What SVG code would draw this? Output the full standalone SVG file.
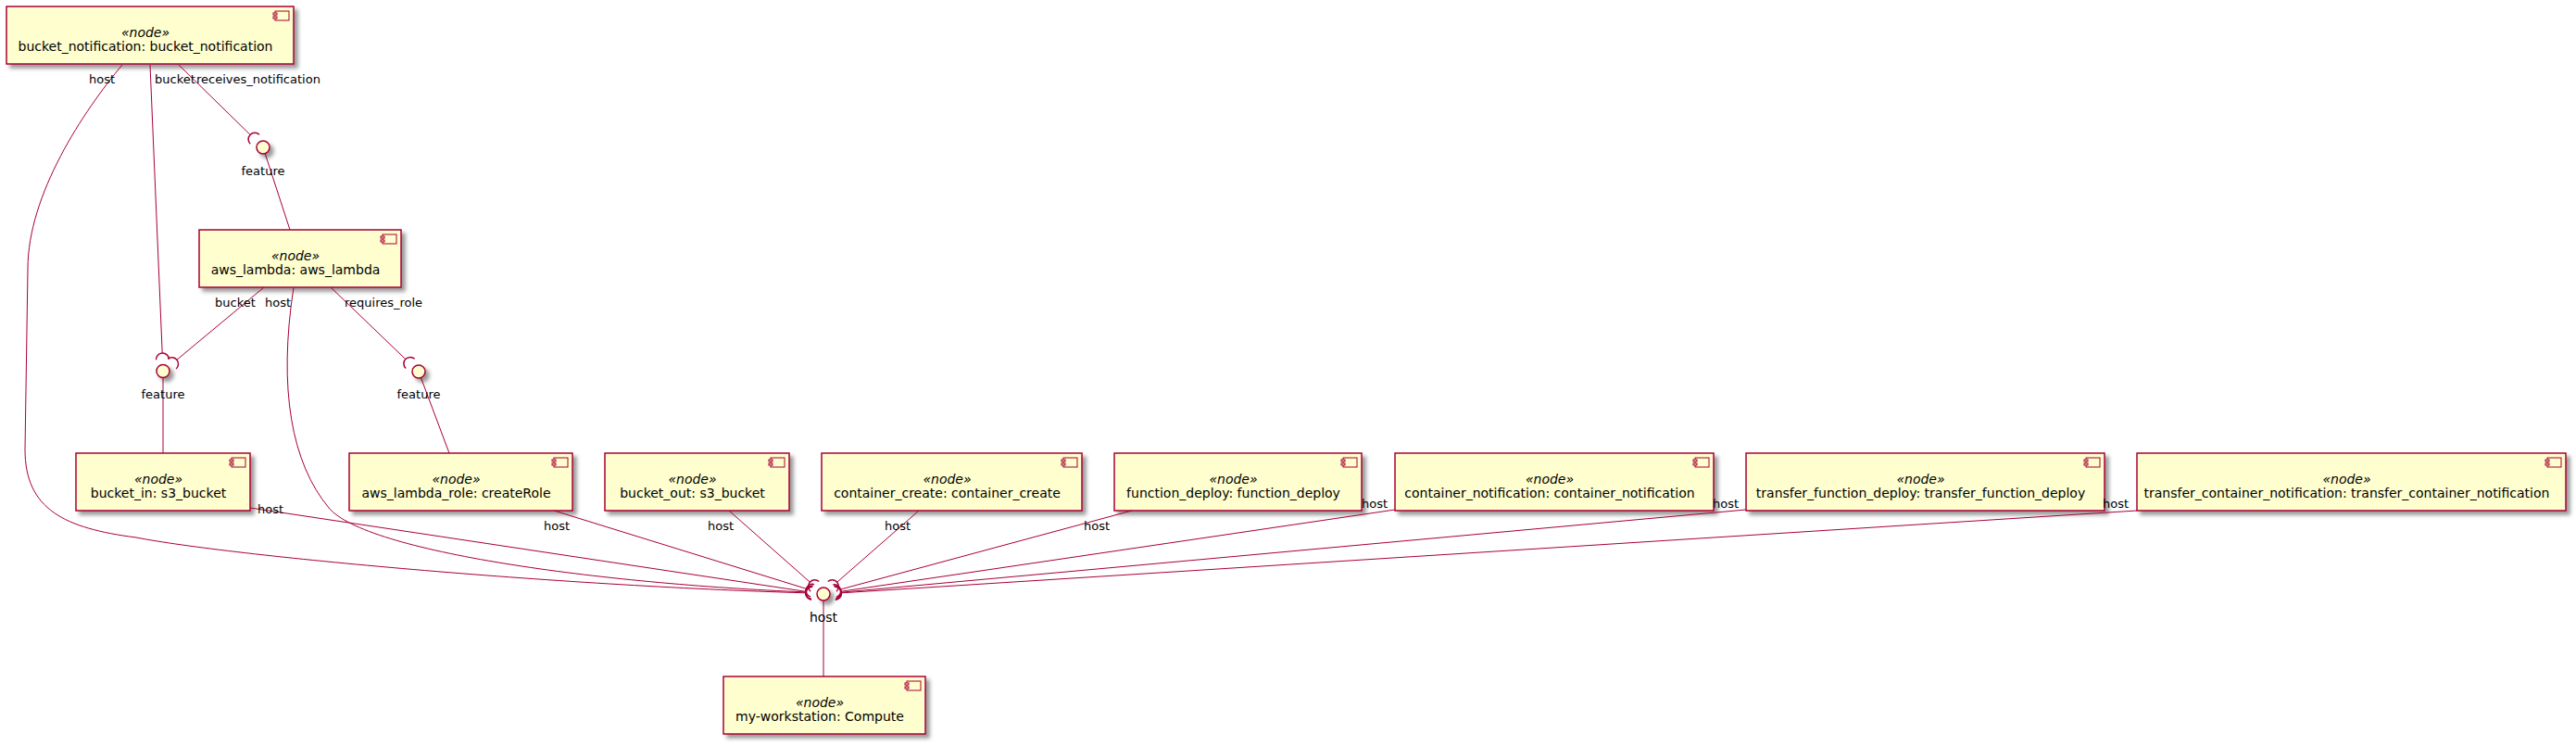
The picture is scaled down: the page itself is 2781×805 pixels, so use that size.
<svg xmlns="http://www.w3.org/2000/svg" xmlns:xlink="http://www.w3.org/1999/xlink" width="2781" height="805" viewBox="0 0 2781 805">
<defs>
<filter id="sh" x="-1" y="-1" width="300%" height="300%">
<feGaussianBlur stdDeviation="2" result="b1"/>
<feColorMatrix in="b1" result="b2" type="matrix" values="0 0 0 0 0 0 0 0 0 0 0 0 0 0 0 0 0 0 .4 0"/>
<feOffset dx="4" dy="4" in="b2" result="b3"/>
<feBlend in="SourceGraphic" in2="b3" mode="normal"/>
</filter>
<g id="icon">
<rect x="-20" y="5" width="15" height="10" class="icon"/>
<rect x="-22" y="7" width="4" height="2" class="icon"/>
<rect x="-22" y="11" width="4" height="2" class="icon"/>
</g>
</defs>
<style>
.box{fill:#FEFECE;stroke:#A80036;stroke-width:1.5;filter:url(#sh)}
.icon{fill:#FEFECE;stroke:#A80036;stroke-width:1}
.st{font-family:"DejaVu Sans","Liberation Sans",sans-serif;font-size:14px;font-style:italic;text-anchor:middle;fill:#000}
.nm{font-family:"DejaVu Sans","Liberation Sans",sans-serif;font-size:14px;text-anchor:middle;fill:#000}
.lk{fill:none;stroke:#A80036;stroke-width:1}
.sock{fill:none;stroke:#A80036;stroke-width:1.5}
.lbl{font-family:"DejaVu Sans","Liberation Sans",sans-serif;font-size:13px;fill:#000}
.ic{fill:#FEFECE;stroke:#A80036;stroke-width:1.5;filter:url(#sh)}
.icl{font-family:"DejaVu Sans","Liberation Sans",sans-serif;font-size:13px;text-anchor:middle;fill:#000}
</style>
<rect x="0" y="0" width="2781" height="805" fill="#FFFFFF"/>

<g id="bucket_notification">
<rect class="box" x="7" y="7" width="310" height="62"/>
<use xlink:href="#icon" x="317" y="7"/>
<text class="st" x="157" y="40">«node»</text>
<text class="nm" x="157" y="55">bucket_notification: bucket_notification</text>
</g>
<g id="aws_lambda">
<rect class="box" x="215" y="248" width="218" height="62"/>
<use xlink:href="#icon" x="433" y="248"/>
<text class="st" x="319" y="281">«node»</text>
<text class="nm" x="319" y="296">aws_lambda: aws_lambda</text>
</g>
<g id="bucket_in">
<rect class="box" x="82" y="489" width="188" height="62"/>
<use xlink:href="#icon" x="270" y="489"/>
<text class="st" x="171" y="522">«node»</text>
<text class="nm" x="171" y="537">bucket_in: s3_bucket</text>
</g>
<g id="aws_lambda_role">
<rect class="box" x="377" y="489" width="241" height="62"/>
<use xlink:href="#icon" x="618" y="489"/>
<text class="st" x="492.5" y="522">«node»</text>
<text class="nm" x="492.5" y="537">aws_lambda_role: createRole</text>
</g>
<g id="bucket_out">
<rect class="box" x="653" y="489" width="199" height="62"/>
<use xlink:href="#icon" x="852" y="489"/>
<text class="st" x="747.5" y="522">«node»</text>
<text class="nm" x="747.5" y="537">bucket_out: s3_bucket</text>
</g>
<g id="container_create">
<rect class="box" x="887" y="489" width="281" height="62"/>
<use xlink:href="#icon" x="1168" y="489"/>
<text class="st" x="1022.5" y="522">«node»</text>
<text class="nm" x="1022.5" y="537">container_create: container_create</text>
</g>
<g id="function_deploy">
<rect class="box" x="1203" y="489" width="267" height="62"/>
<use xlink:href="#icon" x="1470" y="489"/>
<text class="st" x="1331.5" y="522">«node»</text>
<text class="nm" x="1331.5" y="537">function_deploy: function_deploy</text>
</g>
<g id="container_notification">
<rect class="box" x="1506" y="489" width="344" height="62"/>
<use xlink:href="#icon" x="1850" y="489"/>
<text class="st" x="1673" y="522">«node»</text>
<text class="nm" x="1673" y="537">container_notification: container_notification</text>
</g>
<g id="transfer_function_deploy">
<rect class="box" x="1885" y="489" width="387" height="62"/>
<use xlink:href="#icon" x="2272" y="489"/>
<text class="st" x="2073.5" y="522">«node»</text>
<text class="nm" x="2073.5" y="537">transfer_function_deploy: transfer_function_deploy</text>
</g>
<g id="transfer_container_notification">
<rect class="box" x="2307" y="489" width="463" height="62"/>
<use xlink:href="#icon" x="2770" y="489"/>
<text class="st" x="2533.5" y="522">«node»</text>
<text class="nm" x="2533.5" y="537">transfer_container_notification: transfer_container_notification</text>
</g>
<g id="my-workstation">
<rect class="box" x="781" y="730" width="218" height="62"/>
<use xlink:href="#icon" x="999" y="730"/>
<text class="st" x="885" y="763">«node»</text>
<text class="nm" x="885" y="778">my-workstation: Compute</text>
</g>

<g id="connectors">
<path class="lk" d="M132,70 C90,120 30,210 30,290 L27,485 C27,550 70,570 147,580 C250,600 600,632 869.5,639.8"/>
<path class="lk" d="M162,70 L175.2,381"/>
<path class="lk" d="M193,70 L270.1,145.4"/>
<path class="lk" d="M286.3,166.1 L313,248"/>
<path class="lk" d="M285,310 L191.1,388.1"/>
<path class="lk" d="M317,310 C300,420 315,500 355,548 C395,596 650,630 869.6,638.9"/>
<path class="lk" d="M357,310 L437.8,387.6"/>
<path class="lk" d="M176,408 L176,489"/>
<path class="lk" d="M454.6,408 L485,489"/>
<path class="lk" d="M270,548 L869.7,638.3"/>
<path class="lk" d="M598,551 L870.4,635.3"/>
<path class="lk" d="M787,551 L874.3,628.1"/>
<path class="lk" d="M992,551 L903.7,628.2"/>
<path class="lk" d="M1222,551 L907.8,635.9"/>
<path class="lk" d="M1506,550 L908.3,638.2"/>
<path class="lk" d="M1885,550 L908.4,639.2"/>
<path class="lk" d="M2307,551 L908.5,639.8"/>
<path class="lk" d="M889,648.5 L889,730"/>
<path class="sock" d="M876.9,633.3 A7,7 0 0 0 876.1,647.2"/>
<path class="sock" d="M877.4,632.6 A7,7 0 0 0 875.8,646.6"/>
<path class="sock" d="M877.6,632.3 A7,7 0 0 0 875.6,646.2"/>
<path class="sock" d="M879.1,630.6 A7,7 0 0 0 875,644"/>
<path class="sock" d="M884.2,627.5 A7,7 0 0 0 875,638.1"/>
<path class="sock" d="M903,638.1 A7,7 0 0 0 893.8,627.5"/>
<path class="sock" d="M902.9,644.5 A7,7 0 0 0 899.3,631"/>
<path class="sock" d="M902.4,646.1 A7,7 0 0 0 900.4,632.3"/>
<path class="sock" d="M902,646.9 A7,7 0 0 0 900.8,632.9"/>
<path class="sock" d="M901.9,647.2 A7,7 0 0 0 901.1,633.2"/>
<path class="sock" d="M280,145.3 A7,7 0 0 0 270.2,155.3"/>
<path class="sock" d="M182.5,387.7 A7,7 0 0 0 168.5,388.3"/>
<path class="sock" d="M190.1,398 A7,7 0 0 0 181.2,387.2"/>
<path class="sock" d="M447.7,387.3 A7,7 0 0 0 438.1,397.5"/>
<text class="lbl" x="96" y="90">host</text>
<text class="lbl" x="167" y="90">bucket</text>
<text class="lbl" x="212" y="90">receives_notification</text>
<text class="lbl" x="232" y="331">bucket</text>
<text class="lbl" x="286" y="331">host</text>
<text class="lbl" x="372" y="331">requires_role</text>
<text class="lbl" x="278" y="554">host</text>
<text class="lbl" x="587" y="572">host</text>
<text class="lbl" x="764" y="572">host</text>
<text class="lbl" x="955" y="572">host</text>
<text class="lbl" x="1170" y="572">host</text>
<text class="lbl" x="1470" y="548">host</text>
<text class="lbl" x="1849" y="548">host</text>
<text class="lbl" x="2270" y="548">host</text>
</g>

<g id="feature_top">
<circle class="ic" cx="284" cy="159" r="7"/>
<text class="icl" x="284" y="189">feature</text>
</g>
<g id="feature_left">
<circle class="ic" cx="176" cy="400.5" r="7"/>
<text class="icl" x="176" y="429.5">feature</text>
</g>
<g id="feature_right">
<circle class="ic" cx="452" cy="401" r="7"/>
<text class="icl" x="452" y="430">feature</text>
</g>
<g id="host">
<circle class="ic" cx="889" cy="641" r="7"/>
<text class="icl" x="889" y="671" style="font-size:14px">host</text>
</g>
</svg>
